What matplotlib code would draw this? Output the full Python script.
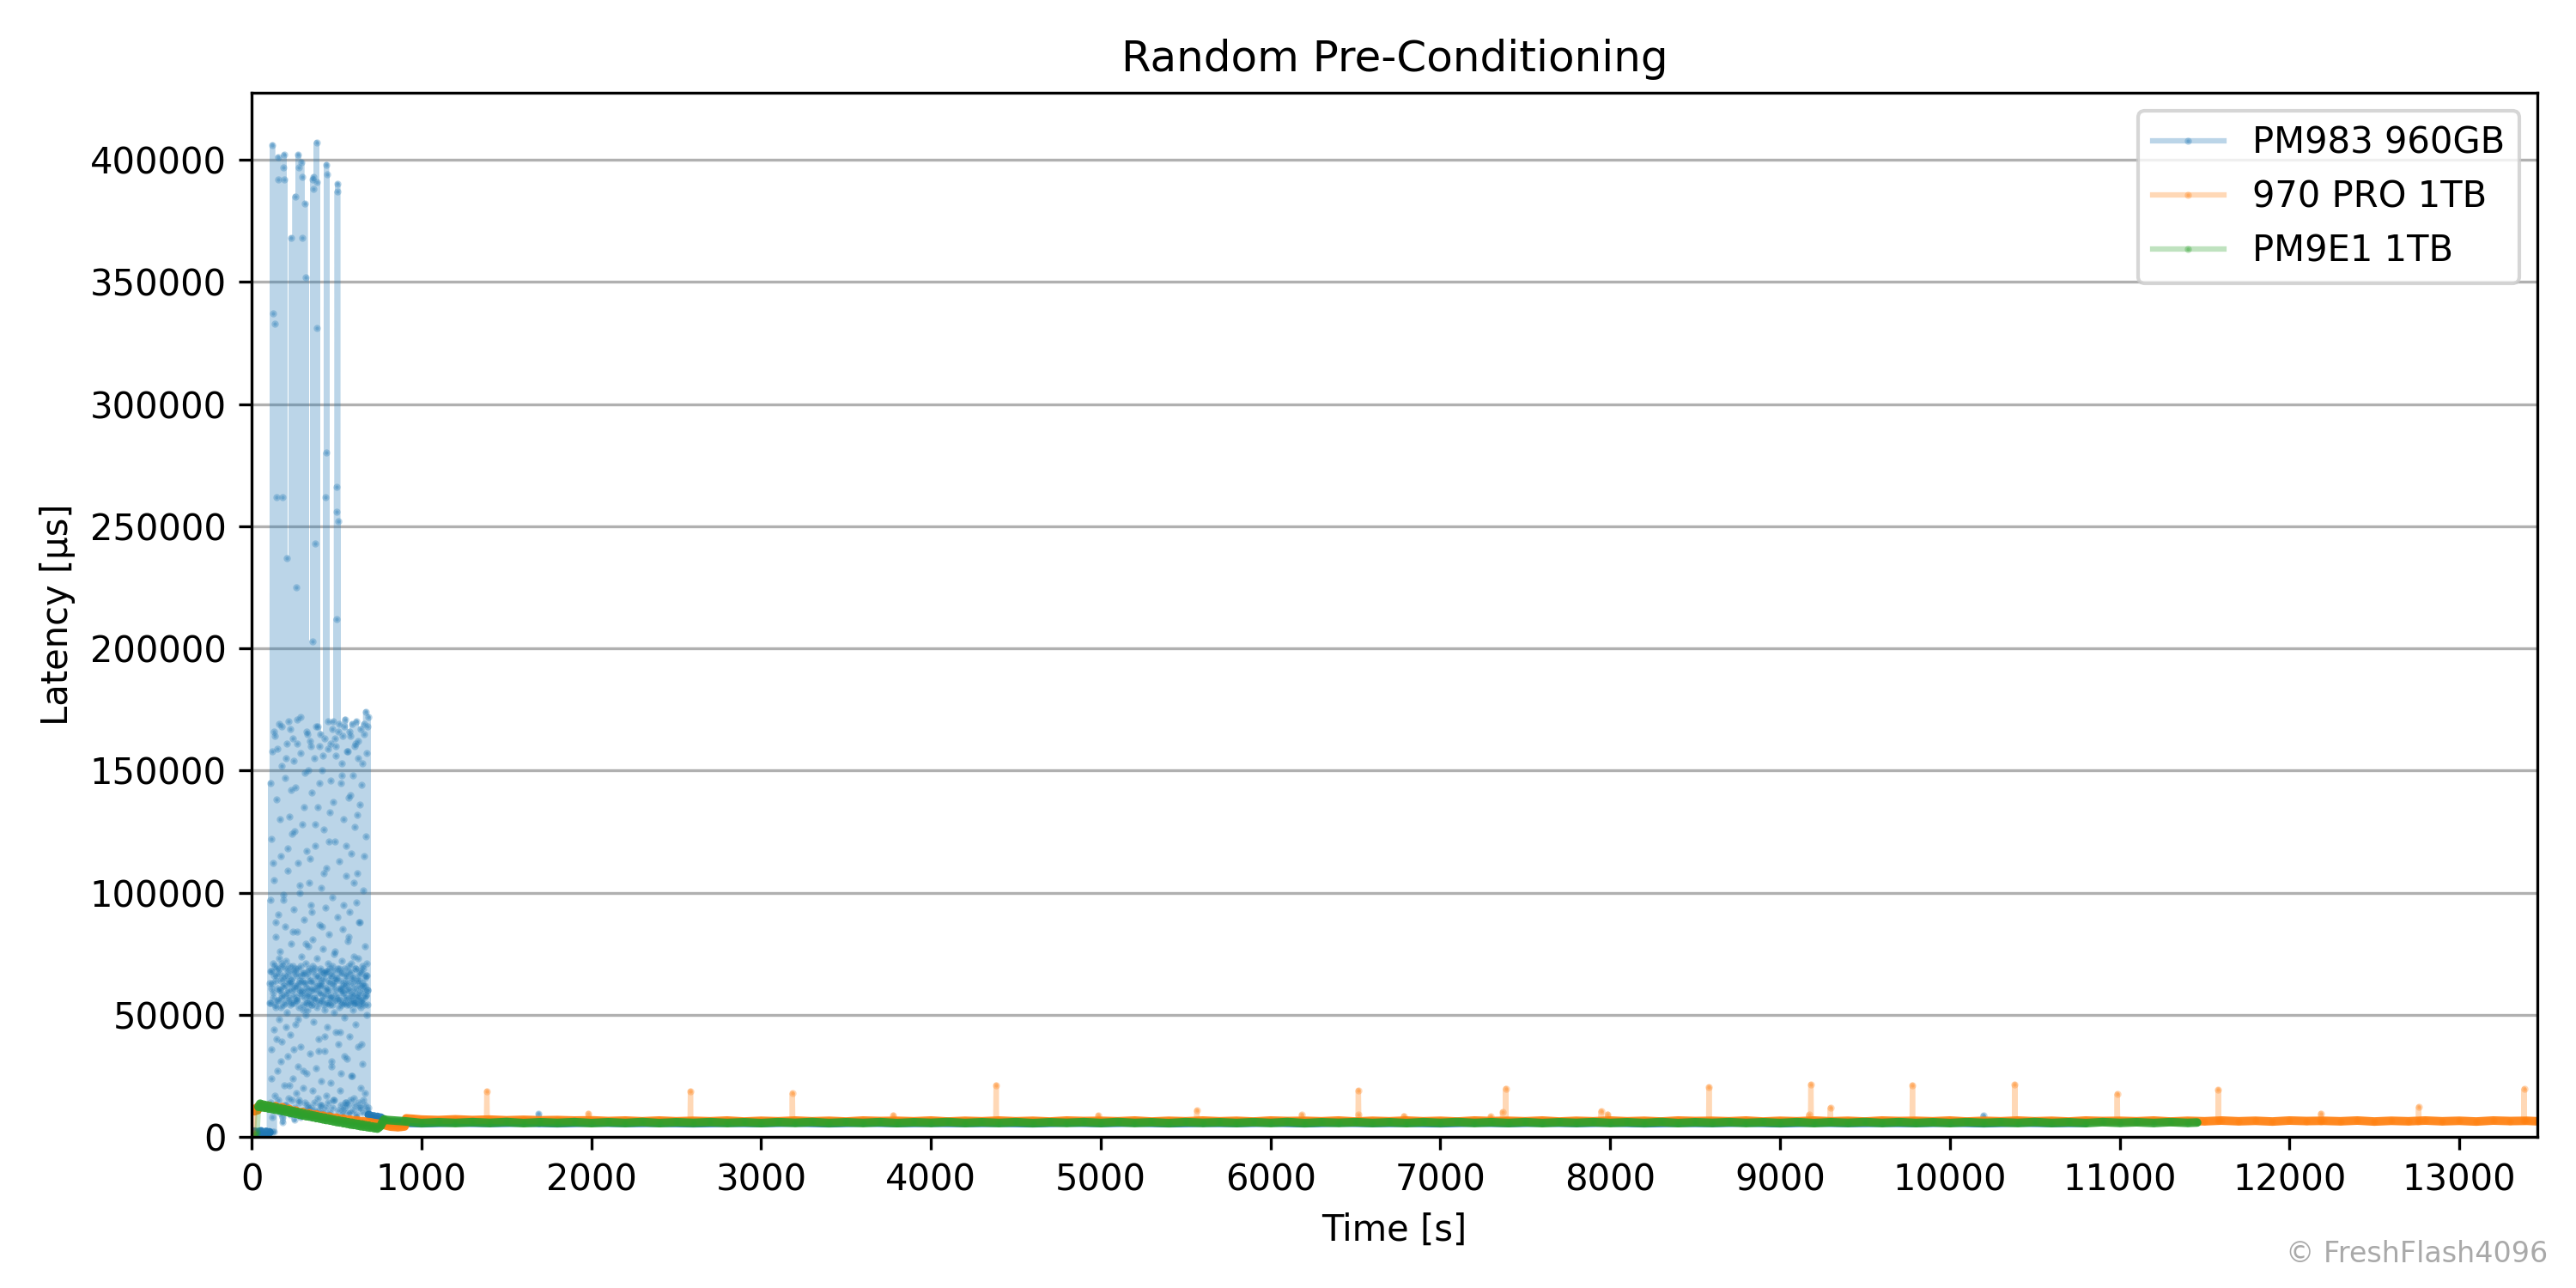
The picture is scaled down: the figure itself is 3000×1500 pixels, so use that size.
import numpy as np
import matplotlib
matplotlib.use("Agg")
import matplotlib.pyplot as plt

labels = ["PM983 960GB", "970 PRO 1TB", "PM9E1 1TB"]
colors = ["tab:blue", "tab:orange", "tab:green"]

# ---- PM983 960GB (latency in us) ----
pm983_pre_t = [5, 15, 25, 35, 45, 55, 65, 75, 85, 95, 104]
pm983_pre_v = [1800, 2200, 1600, 2000, 1400, 2300, 1700, 1200, 2100, 1500, 1900]

# burst 106..686 s, values in thousands of us (two logged jobs, interleaved)
pm983_burst_t = list(range(106, 687, 2))
pm983_burst_k = [
    63, 2, 55, 145, 68, 24, 61, 2, 406, 112,
    337, 57, 166, 2, 70, 333, 54, 88, 64, 262,
    40, 66, 12, 159, 401, 392, 56, 73, 69, 10,
    60, 130, 53, 31, 71, 168, 58, 8, 262, 65,
    97, 397, 402, 62, 392, 13, 55, 155, 69, 45,
    59, 237, 11, 66, 118, 56, 170, 63, 21, 70,
    9, 54, 142, 64, 368, 60, 15, 84, 68, 163,
    55, 36, 62, 12, 125, 385, 69, 57, 225, 10,
    66, 161, 56, 48, 402, 63, 397, 14, 60, 103,
    70, 8, 172, 58, 399, 393, 64, 368, 54, 27,
    67, 135, 11, 59, 382, 63, 79, 352, 55, 166,
    13, 66, 52, 58, 150, 69, 9, 61, 114, 56,
    160, 12, 64, 92, 54, 203, 68, 392, 388, 60,
    393, 14, 57, 243, 69, 128, 56, 10, 407, 331,
    391, 62, 168, 55, 35, 66, 11, 145, 59, 63,
    165, 13, 68, 86, 56, 62, 156, 9, 65, 108,
    54, 67, 41, 58, 12, 262, 280, 398, 394, 68,
    60, 170, 14, 55, 121, 64, 10, 57, 69, 161,
    58, 29, 66, 8, 167, 54, 137, 63, 15, 68,
    56, 163, 60, 76, 65, 160, 212, 266, 256, 387,
    390, 252, 57, 11, 69, 169, 56, 43, 64, 13,
    61, 148, 54, 67, 9, 164, 59, 95, 62, 33,
    69, 12, 171, 55, 64, 119, 14, 66, 57, 158,
    60, 10, 70, 82, 54, 166, 63, 15, 140, 58,
    67, 25, 56, 169, 61, 11, 65, 104, 55, 160,
    13, 59, 69, 55, 57, 170, 9, 64, 132, 54,
    66, 162, 14, 58, 88, 62, 68, 12, 167, 56,
    55, 38, 63, 10, 153, 60, 69, 115, 57, 165,
    62, 13, 58, 174, 66, 71, 11, 60, 168, 54,
    12,
]
pm983_burst2_t = list(range(107, 686, 2))
pm983_burst2_k = [
    55, 97, 14, 68, 122, 36, 63, 158, 8, 71,
    59, 44, 105, 66, 17, 164, 53, 82, 12, 69,
    138, 61, 27, 56, 91, 15, 67, 169, 48, 60,
    76, 11, 64, 115, 57, 39, 152, 70, 6, 62,
    99, 54, 21, 66, 147, 58, 86, 13, 72, 161,
    51, 64, 33, 109, 60, 16, 68, 131, 57, 42,
    167, 63, 10, 79, 55, 124, 65, 24, 70, 154,
    58, 93, 7, 61, 46, 143, 67, 18, 56, 84,
    62, 171, 29, 69, 112, 53, 15, 64, 100, 59,
    37, 157, 66, 9, 74, 60, 128, 52, 20, 67,
    89, 63, 149, 14, 57, 50, 71, 117, 61, 26,
    165, 55, 78, 12, 68, 104, 58, 34, 162, 64,
    8, 95, 60, 141, 54, 19, 70, 81, 63, 47,
    155, 57, 11, 66, 119, 61, 28, 168, 53, 73,
    16, 65, 135, 59, 40, 87, 62, 160, 13, 69,
    102, 56, 23, 64, 150, 58, 77, 10, 67, 126,
    52, 35, 163, 61, 94, 17, 68, 110, 55, 45,
    71, 159, 60, 9, 83, 63, 133, 54, 22, 66,
    146, 57, 31, 70, 98, 12, 62, 170, 51, 75,
    15, 64, 121, 58, 43, 156, 65, 7, 69, 90,
    56, 166, 38, 61, 113, 53, 19, 67, 145, 60,
    26, 72, 153, 55, 11, 85, 63, 130, 59, 49,
    168, 66, 14, 57, 107, 62, 32, 158, 54, 80,
    13, 68, 139, 60, 41, 92, 56, 164, 10, 71,
    116, 58, 25, 65, 148, 52, 74, 16, 63, 127,
    55, 46, 161, 69, 96, 8, 61, 108, 57, 37,
    73, 155, 64, 12, 88, 59, 136, 53, 20, 67,
    144, 56, 30, 70, 101, 15, 62, 169, 54, 78,
    18, 65, 123, 58, 50, 157, 66, 9, 60, 172,
]

pm983_post_t = [690, 700, 710, 720, 730, 740, 750, 760, 770, 780, 790]
pm983_post_v = [9000, 8500, 8100, 8400, 7900, 8200, 7700, 7900, 7300, 6800, 6300]

pm983_base_t = list(range(800, 10801, 200))
pm983_base_v = [
    6000, 5600, 5900, 5700, 5900, 5600, 5900, 5700, 5800, 5600,
    5800, 5700, 5900, 5600, 5900, 5700, 5800, 5700, 5800, 5600,
    5900, 5700, 5900, 5600, 5800, 5700, 5900, 5600, 5900, 5700,
    5800, 5600, 5900, 5700, 5900, 5700, 5900, 5600, 5800, 5700,
    5900, 5600, 5900, 5700, 5800, 5700, 5900, 5600, 5900, 5700,
    5800,
]

pm983_spike_t = [1688, 1690, 1692, 10195, 10197, 10199]
pm983_spike_v = [5700, 9400, 5800, 5700, 8700, 5800]

# ---- 970 PRO 1TB ----
pro970_early_t = [10, 18, 26, 34, 40, 60, 80, 100, 120, 140, 160, 180, 200, 220,
                  240, 260, 280, 300, 320, 340, 360, 380, 400, 420, 440, 460,
                  480, 500, 520, 540, 560, 580, 600, 620, 640, 660, 680, 700,
                  720, 740, 760, 780, 800, 820, 840, 860, 880, 900, 910, 950]
pro970_early_v = [1500, 10500, 11800, 10900, 12500, 13000, 12200, 12800, 12000,
                  12600, 11700, 12200, 11100, 11500, 10500, 10800, 9900, 10200,
                  9400, 9700, 8900, 9200, 8500, 8700, 8100, 8300, 7700, 7900,
                  7300, 7500, 7000, 7100, 6700, 6800, 6400, 6400, 6100, 6000,
                  5700, 5500, 5200, 4900, 4500, 4200, 4100, 4000, 4100, 4300,
                  7600, 7400]

pro970_base_t = list(range(1000, 13401, 100)) + [13460]
pro970_base_v = [
    7100, 6900, 7200, 6900, 7100, 6800, 7000, 6800, 6900, 6700,
    6800, 6500, 6700, 6400, 6700, 6400, 6600, 6400, 6700, 6300,
    6600, 6400, 6700, 6400, 6600, 6300, 6700, 6500, 6600, 6400,
    6700, 6300, 6600, 6400, 6700, 6400, 6600, 6300, 6700, 6500,
    6600, 6400, 6700, 6300, 6600, 6400, 6700, 6400, 6600, 6300,
    6700, 6500, 6600, 6400, 6700, 6300, 6600, 6400, 6700, 6400,
    6600, 6300, 6700, 6500, 6600, 6400, 6700, 6300, 6600, 6400,
    6700, 6400, 6600, 6300, 6700, 6500, 6600, 6400, 6700, 6300,
    6600, 6400, 6700, 6400, 6600, 6300, 6700, 6500, 6600, 6400,
    6700, 6300, 6600, 6400, 6700, 6400, 6600, 6300, 6700, 6500,
    6600, 6400, 6700, 6300, 6600, 6400, 6700, 6400, 6600, 6300,
    6700, 6500, 6600, 6400, 6700, 6300, 6600, 6400, 6700, 6400,
    6600, 6300, 6700, 6500, 6600,
    6400,
]

pro970_spike_t = [1383, 1385, 1387, 1981, 1983, 1985, 2582, 2584, 2586,
                  3182, 3184, 3186, 3777, 3779, 3781, 4382, 4384, 4386,
                  4983, 4985, 4987, 5564, 5566, 5568, 6181, 6183, 6185,
                  6515, 6517, 6519, 6521, 6783, 6785, 6787, 7294, 7296, 7298,
                  7365, 7367, 7369, 7383, 7385, 7387, 7945, 7947, 7949,
                  7984, 7986, 7988, 8580, 8582, 8584, 9168, 9170, 9172,
                  9180, 9182, 9184, 9295, 9297, 9299, 9778, 9780, 9782,
                  10381, 10383, 10385, 10984, 10986, 10988, 11579, 11581, 11583,
                  12183, 12185, 12187, 12759, 12761, 12763, 13380, 13382, 13384]
pro970_spike_v = [6600, 18700, 6700, 6500, 9600, 6600, 6600, 18700, 6400,
                  6600, 17800, 6700, 6500, 8900, 6600, 6600, 21200, 6500,
                  6600, 8800, 6700, 6600, 10800, 6400, 6500, 9000, 6600,
                  6600, 19000, 9300, 6400, 6600, 8600, 6500, 6600, 8300, 6600,
                  6500, 10200, 6600, 6600, 19800, 6700, 6600, 10500, 6400,
                  6600, 9300, 6600, 6500, 20400, 6600, 6600, 9000, 6600,
                  6500, 21500, 6700, 6600, 11900, 6400, 6600, 21200, 6600,
                  6500, 21500, 6600, 6600, 17500, 6500, 6600, 19300, 6700,
                  6600, 9600, 6400, 6500, 12200, 6600, 6600, 19600, 6600]

# ---- PM9E1 1TB ----
pm9e1_early_t = [22, 32] + list(range(40, 800, 10))
pm9e1_early_v = [
    600, 1800,
    12300, 13600, 12100, 13200, 11900, 12900, 11600, 12600, 11400, 12300,
    11100, 12000, 10900, 11700, 10600, 11400, 10300, 11100, 10000, 10800,
    9700, 10500, 9400, 10200, 9100, 9900, 8800, 9600, 8500, 9300,
    8300, 9000, 8000, 8700, 7700, 8400, 7500, 8100, 7200, 7900,
    6900, 7600, 6700, 7300, 6400, 7000, 6100, 6800, 5900, 6500,
    5600, 6300, 5400, 6000, 5100, 5800, 4900, 5500, 4700, 5300,
    4400, 5100, 4200, 4800, 4000, 4600, 3800, 4300, 3600, 4100,
    3400, 3900, 4500, 6000, 7200, 7000,
]

pm9e1_base_t = list(range(800, 11401, 100)) + [11456]
pm9e1_base_v = [
    6900, 6400, 5700, 6000, 5700, 6050, 5750, 6100, 5650, 6000,
    5750, 6050, 5650, 6000, 5700, 6100, 5650, 6000, 5750, 6050,
    5700, 6000, 5650, 6050, 5750, 6100, 5700, 6000, 5700, 6050,
    5650, 6000, 5750, 6100, 5700, 6000, 5700, 6050, 5650, 6000,
    5750, 6050, 5700, 6100, 5700, 6000, 5650, 6050, 5750, 6000,
    5700, 6050, 5700, 6100, 5650, 6000, 5750, 6050, 5700, 6000,
    5650, 6050, 5750, 6100, 5700, 6000, 5700, 6050, 5650, 6000,
    5750, 6050, 5700, 6000, 5700, 6100, 5650, 6000, 5750, 6050,
    5700, 6000, 5700, 6050, 5650, 6000, 5750, 6100, 5700, 6050,
    5700, 6000, 5650, 6050, 5750, 6000, 5700, 6100, 5700, 6000,
    5650, 6050, 5750, 6000, 5700, 6050, 5750,
    5900,
]


def join(parts):
    t = np.concatenate([np.asarray(p[0], dtype=float) for p in parts])
    v = np.concatenate([np.asarray(p[1], dtype=float) for p in parts])
    order = np.argsort(t, kind="stable")
    return t[order], v[order]


pm983_full = join([
    (pm983_pre_t, pm983_pre_v),
    (pm983_burst_t, np.array(pm983_burst_k) * 1000),
    (pm983_burst2_t, np.array(pm983_burst2_k) * 1000),
    (pm983_post_t, pm983_post_v),
    (pm983_base_t, pm983_base_v),
    (pm983_spike_t, pm983_spike_v),
])
pro970_full = join([
    (pro970_early_t, pro970_early_v),
    (pro970_base_t, pro970_base_v),
    (pro970_spike_t, pro970_spike_v),
])
pm9e1_full = join([
    (pm9e1_early_t, pm9e1_early_v),
    (pm9e1_base_t, pm9e1_base_v),
])

# steady stretches of each log: the dense 1 s samples there pile up into a solid band
pm983_steady = [join([(pm983_pre_t, pm983_pre_v)]),
                join([(pm983_post_t, pm983_post_v), (pm983_base_t, pm983_base_v)])]
pro970_steady = [join([(pro970_early_t[1:], pro970_early_v[1:]),
                       (pro970_base_t, pro970_base_v)])]
pm9e1_steady = [join([(pm9e1_early_t[2:], pm9e1_early_v[2:]),
                      (pm9e1_base_t, pm9e1_base_v)])]

fig, ax = plt.subplots(figsize=(10, 5), dpi=300)
fig.subplots_adjust(left=0.0977, right=0.985, bottom=0.1173, top=0.9278)

series = [pm983_full, pro970_full, pm9e1_full]
steady = [pm983_steady, pro970_steady, pm9e1_steady]
for (t, v), segs, lab, c in zip(series, steady, labels, colors):
    ax.plot(t, v, marker=".", markersize=2, alpha=0.3, color=c, label=lab)
    for ts, vs in segs:
        ax.plot(ts, vs, color=c, alpha=0.9, lw=2.4, solid_capstyle="round")

ax.set_xlim(0, pro970_full[0].max())
ax.set_ylim(bottom=0)
ax.xaxis.set_major_locator(matplotlib.ticker.MultipleLocator(1000))
ax.grid(axis="y")
ax.set_title("Random Pre-Conditioning")
ax.set_xlabel("Time [s]")
ax.set_ylabel("Latency [µs]")
ax.legend(loc="upper right")

fig.text(0.989, 0.015, "© FreshFlash4096", ha="right", va="bottom",
         fontsize=8, color="darkgray")

fig.savefig("out.png", dpi=300)
